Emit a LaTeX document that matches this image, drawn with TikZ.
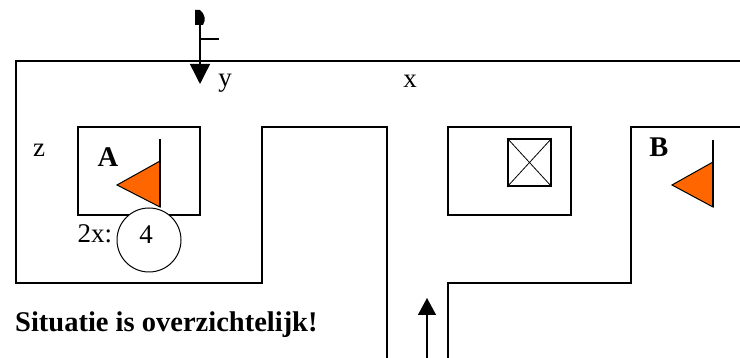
\documentclass[tikz,border=0pt]{standalone}
\usepackage{fontspec}
\setmainfont{Liberation Serif}
\usepackage{xcolor}
\usepackage{tikz}
\usetikzlibrary{arrows.meta}
\definecolor{flagorange}{RGB}{255,102,0}

\tikzset{
	wall/.style={line width=1.6pt,line join=miter},
	label/.style={inner sep=0pt,font=\fontsize{27}{27}\selectfont},
	boldlabel/.style={label,font=\fontsize{28.5}{28.5}\selectfont\bfseries},
	flag/.style={fill=flagorange,draw=black,line width=1pt},
	pole/.style={line width=1.4pt},
	roadarrow/.style={line width=1.4pt,-{Triangle[length=20pt,width=20pt]}}
}

\begin{document}
\begin{tikzpicture}[x=1pt,y=-1pt]
	\useasboundingbox[fill=white] (0,0) rectangle (740,358);
	% road outline
	\coordinate (L1) at (16,61);
	\coordinate (L2) at (16,283);
	\coordinate (L3) at (262,283);
	\coordinate (L4) at (262,127);
	\coordinate (L5) at (387,127);
	\coordinate (L6) at (387,358);
	\coordinate (L0) at (740,61);
	\coordinate (R1) at (448,358);
	\coordinate (R2) at (448,283);
	\coordinate (R3) at (631,283);
	\coordinate (R4) at (631,127);
	\coordinate (R5) at (740,127);
	\draw[wall] (L0) -- (L1) -- (L2) -- (L3) -- (L4) -- (L5) -- (L6);
	\draw[wall] (R1) -- (R2) -- (R3) -- (R4) -- (R5);
	% boxes
	\node[draw,wall,minimum width=122pt,minimum height=88pt,inner sep=0pt] (boxA) at (139,171) {};
	\node[draw,wall,minimum width=123pt,minimum height=88pt,inner sep=0pt] (boxM) at (509.5,171) {};
	\node[draw,wall,minimum width=43pt,minimum height=47pt,inner sep=0pt] (sign) at (529.5,162.5) {};
	\draw[line width=.8pt] (sign.north west) -- (sign.south east);
	\draw[line width=.8pt] (sign.north east) -- (sign.south west);
	% flags
	\coordinate (A1) at (160,139);
	\coordinate (A2) at (160,207);
	\coordinate (A3) at (160,161);
	\coordinate (A4) at (117,185);
	\draw[flag] (A3) -- (A4) -- (A2) -- cycle;
	\draw[pole] (A1) -- (A3);
	\draw[line width=2.6pt] (A3) -- (A2);
	\coordinate (B1) at (713,140);
	\coordinate (B2) at (713,207);
	\coordinate (B3) at (713,162);
	\coordinate (B4) at (672,185);
	\draw[flag] (B3) -- (B4) -- (B2) -- cycle;
	\draw[pole] (B1) -- (B2);
	% circle
	\node[draw,circle,line width=1pt,fill=white,minimum size=64pt,inner sep=0pt] (count) at (149,240) {};
	\node[label] (four) at (146,235) {4};
	\node[label] (times) at (95,234) {2x:};
	% arrows
	\coordinate (Ttail) at (200,12);
	\coordinate (Ttick) at (200,39);
	\coordinate (Ttickend) at (219,39);
	\coordinate (Thead) at (200,84);
	\fill (195,10) -- (200,10) .. controls (205,14) and (206,20) .. (203,25) -- (195,25) -- cycle;
	\draw[roadarrow] (Ttail) -- (Thead);
	\draw[line width=1.2pt] (Ttick) -- (Ttickend);
	\coordinate (Ubottom) at (427,358);
	\coordinate (Uhead) at (427,298);
	\draw[line width=1.4pt,-{Triangle[length=17pt,width=18pt]}] (Ubottom) -- (Uhead);
	% labels
	\node[label] (x) at (410,81) {x};
	\node[label] (y) at (225,83) {y};
	\node[label] (z) at (39,150) {z};
	\node[boldlabel] (A) at (108,157) {A};
	\node[boldlabel] (B) at (659,147) {B};
	\node[boldlabel,anchor=west] (note) at (15,325) {Situatie is overzichtelijk!};
\end{tikzpicture}
\end{document}
